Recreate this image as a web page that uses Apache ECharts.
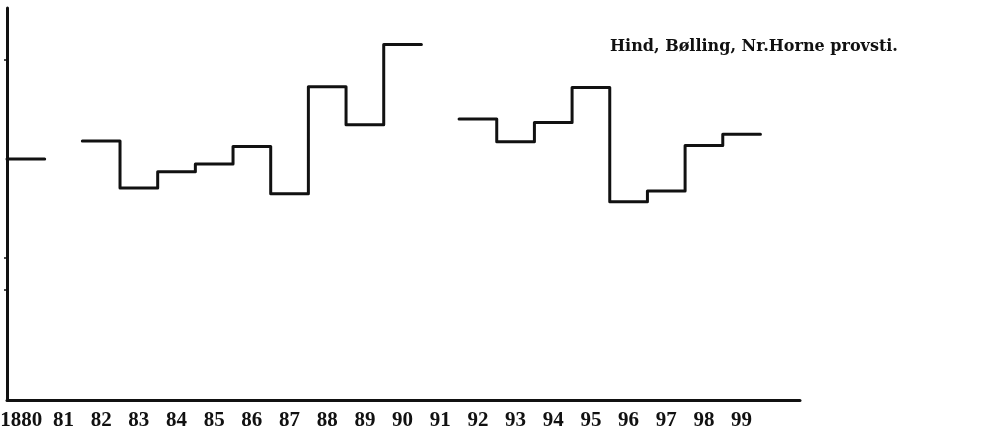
<!DOCTYPE html>
<html>
<head>
<meta charset="utf-8">
<script src="https://cdn.jsdelivr.net/npm/echarts@6/dist/echarts.min.js"></script>
<style>
html,body{margin:0;padding:0;background:#fff;}
#c{width:986px;height:442px;}
</style>
</head>
<body>
<div id="c"></div>
<script>
// Data (y values in relative units, 0..100 of the axis height)
var years = [1880,1881,1882,1883,1884,1885,1886,1887,1888,1889,1890,1891,1892,1893,1894,1895,1896,1897,1898,1899];
var values = [61.5,null,66.1,54.1,58.2,60.2,64.7,52.6,79.9,70.2,90.7,null,71.7,65.9,70.8,79.7,50.6,53.3,64.9,67.8];
var tickLabels = ['1880','81','82','83','84','85','86','87','88','89','90','91','92','93','94','95','96','97','98','99'];
var titleText = 'Hind, Bølling, Nr.Horne provsti.';
var yTickValues = [86.7, 36.2, 28.1];

// Build step path: each year is a flat segment across its band
var stepData = [];
for (var i = 0; i < years.length; i++) {
  if (values[i] === null) {
    stepData.push([years[i], '-']);
  } else {
    stepData.push([years[i] - 0.5, values[i]]);
    stepData.push([years[i] + 0.5, values[i]]);
  }
}

var chart = echarts.init(document.getElementById('c'), null, {renderer: 'canvas'});
var ink = '#111';
chart.setOption({
  animation: false,
  backgroundColor: '#fff',
  grid: {left: 7, right: 186, top: 8, bottom: 42, containLabel: false, outerBoundsMode: 'none'},
  xAxis: {
    type: 'value',
    min: 1879.5,
    max: 1900.55,
    axisLine: {show: true, lineStyle: {color: ink, width: 3}},
    axisTick: {show: false},
    splitLine: {show: false},
    axisLabel: {
      customValues: years,
      formatter: function (v) {
        var idx = years.indexOf(Math.round(v));
        if (idx === 0) return '{first|' + tickLabels[idx] + '}';
        return idx >= 0 ? tickLabels[idx] : '';
      },
      rich: {
        first: {padding: [0, 9, 0, 0], fontFamily: 'Liberation Serif', fontWeight: 'bold', fontSize: 21, color: ink}
      },
      color: ink,
      fontFamily: 'Liberation Serif',
      fontWeight: 'bold',
      fontSize: 21,
      margin: 10
    }
  },
  yAxis: {
    type: 'value',
    min: 0,
    max: 100,
    axisLine: {show: true, lineStyle: {color: ink, width: 3}},
    axisTick: {show: true, customValues: yTickValues, length: 3, lineStyle: {color: ink, width: 1.5}},
    axisLabel: {show: false},
    splitLine: {show: false}
  },
  series: [{
    type: 'line',
    data: stepData,
    connectNulls: false,
    showSymbol: false,
    symbol: 'none',
    lineStyle: {color: ink, width: 3, join: 'round', cap: 'round'},
    z: 3
  }],
  graphic: [{
    type: 'text',
    left: 610,
    top: 39,
    style: {
      text: titleText,
      fill: ink,
      font: 'bold 16px "DejaVu Serif"'
    }
  }]
});
</script>
</body>
</html>
